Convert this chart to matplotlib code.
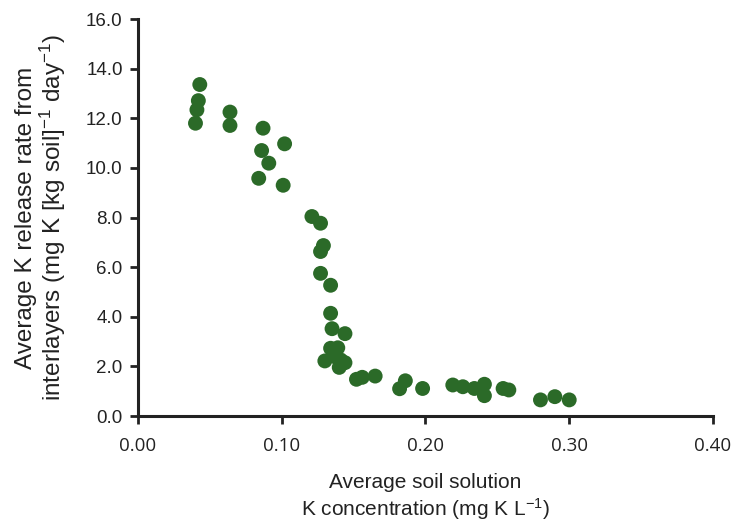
import matplotlib
matplotlib.use("Agg")
from matplotlib import pyplot as plt
from matplotlib.ticker import MultipleLocator, FormatStrFormatter

plt.rcParams['font.family'] = ['Liberation Sans', 'DejaVu Sans']
plt.rcParams['mathtext.default'] = 'regular'

# soil solution K concentration (mg K / L)
k_conc = [0.040, 0.041, 0.042, 0.043, 0.064, 0.064, 0.087, 0.086, 0.102, 0.091,
          0.084, 0.101, 0.121, 0.127, 0.129, 0.127, 0.127, 0.134, 0.134, 0.135,
          0.144, 0.134, 0.139, 0.130, 0.137, 0.141, 0.144, 0.140, 0.152, 0.156,
          0.165, 0.182, 0.186, 0.198, 0.219, 0.226, 0.234, 0.241, 0.241, 0.254,
          0.258, 0.280, 0.290, 0.300]
# K release rate from interlayers
k_release = [11.80, 12.34, 12.71, 13.36, 12.25, 11.71, 11.60, 10.70, 10.97, 10.19,
             9.58, 9.30, 8.04, 7.77, 6.87, 6.63, 5.75, 5.27, 4.14, 3.52,
             3.32, 2.73, 2.75, 2.22, 2.39, 2.26, 2.15, 1.96, 1.48, 1.56,
             1.61, 1.10, 1.42, 1.11, 1.25, 1.18, 1.11, 1.28, 0.82, 1.11,
             1.05, 0.65, 0.78, 0.65]

fig = plt.figure(figsize=(7.32, 5.21), dpi=100)
ax = fig.add_axes([0.1885, 0.2015, 0.7855, 0.762])

ax.scatter(k_conc, k_release, s=115, color='#2b6a28', edgecolors='none', zorder=3,
           clip_on=False)

ax.set_xlim(0, 0.40)
ax.set_ylim(0, 16)
ax.xaxis.set_major_locator(MultipleLocator(0.10))
ax.yaxis.set_major_locator(MultipleLocator(2.0))
ax.xaxis.set_major_formatter(FormatStrFormatter('%.2f'))
ax.yaxis.set_major_formatter(FormatStrFormatter('%.1f'))

for side in ['top', 'right']:
  ax.spines[side].set_visible(False)
for side in ['left', 'bottom']:
  ax.spines[side].set_linewidth(2.2)
  ax.spines[side].set_color('#222222')
ax.tick_params(direction='out', length=6, width=2, color='#222222',
               labelcolor='#222222')
ax.tick_params(axis='y', labelsize=13.5, pad=5)
ax.tick_params(axis='x', labelsize=13.5, pad=9)
for lab in ax.get_xticklabels():
  lab.set_family(['Open Sans', 'DejaVu Sans'])

ax.set_xlabel("Average soil solution\nK concentration (mg K L$^{-1}$)",
              fontsize=15, color='#222222', labelpad=13, linespacing=1.2)
ax.set_ylabel("Average K release rate from\ninterlayers (mg K [kg soil]$^{-1}$ day$^{-1}$)",
              fontsize=17.5, color='#222222', labelpad=13, linespacing=1.05)

fig.savefig("out.png", dpi=100)
